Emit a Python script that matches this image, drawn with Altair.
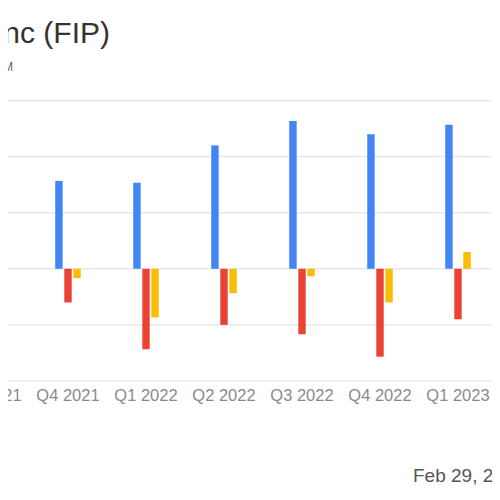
import altair as alt
import pandas as pd

quarters = ["Q3 2021", "Q4 2021", "Q1 2022", "Q2 2022", "Q3 2022", "Q4 2022", "Q1 2023"]
series = ["Revenue", "Net Income", "Free Cash Flow"]
colors = ["#4285F4", "#EA4335", "#FBBC04"]
revenue = [40, 47, 46, 66, 79, 72, 77]
net_income = [-30, -18, -43, -30, -35, -47, -27]
cash_flow = [-15, -5, -26, -13, -4, -18, 9]
grid_values = [-60, -30, 0, 30, 60, 90]
title_text = ["FTAI Infrastructure Inc (FIP)"]
subtitle_text = ["Quarterly Financials, in $M"]
date_text = ["Feb 29, 2024"]

# SVG is 484x484 so that with the 8px page margin the page is exactly 500x500
W = 484


def S(v):
    return v - 8


rows = []
for i, q in enumerate(quarters):
    for s, vals in zip(series, [revenue, net_income, cash_flow]):
        rows.append({"quarter": q, "series": s, "value": vals[i]})
df = pd.DataFrame(rows)
grid_df = pd.DataFrame({"v": grid_values})
lab_df = pd.DataFrame({"quarter": quarters})
one = pd.DataFrame({"a": [0]})

xscale = alt.Scale(domain=quarters, range=[S(-49), S(497)], paddingInner=0.673, paddingOuter=0.3365)
yscale = alt.Scale(domain=[-60, 90], range=[S(381), S(100.5)], nice=False)
FONT = "Liberation Sans"

grid = alt.Chart(grid_df).mark_rule(color="#e8e8e8", strokeWidth=1.5).encode(
    y=alt.Y("v:Q", scale=yscale, axis=None),
    x=alt.value(S(0)),
    x2=alt.value(S(494)),
)

bars = alt.Chart(df).mark_bar().encode(
    x=alt.X("quarter:N", scale=xscale, axis=None),
    xOffset=alt.XOffset("series:N", scale=alt.Scale(domain=series, paddingInner=0.18, paddingOuter=0)),
    y=alt.Y("value:Q", scale=yscale, axis=None),
    color=alt.Color("series:N", scale=alt.Scale(domain=series, range=colors), legend=None),
)

labels = alt.Chart(lab_df).mark_text(fontSize=16.5, color="#8a8a8a", baseline="middle", font=FONT).encode(
    x=alt.X("quarter:N", scale=xscale, axis=None),
    y=alt.value(S(396)),
    text="quarter:N",
)

title = alt.Chart(pd.DataFrame({"t": title_text})).mark_text(
    align="right", baseline="alphabetic", fontSize=30, color="#333333", font=FONT
).encode(x=alt.value(S(110)), y=alt.value(S(43)), text="t:N")

subtitle = alt.Chart(pd.DataFrame({"t": subtitle_text})).mark_text(
    align="right", baseline="alphabetic", fontSize=12, color="#5b5b8a", font=FONT
).encode(x=alt.value(S(13)), y=alt.value(S(71)), text="t:N")

date = alt.Chart(pd.DataFrame({"t": date_text})).mark_text(
    align="left", baseline="alphabetic", fontSize=19, color="#555555", font=FONT
).encode(x=alt.value(S(413)), y=alt.value(S(482)), text="t:N")

chart = alt.layer(grid, bars, labels, title, subtitle, date).properties(
    width=W, height=W, autosize=alt.AutoSizeParams(type="none"), padding=0, background="white"
).configure_view(stroke=None)

chart.save("out.html", embed_options={"renderer": "svg", "actions": False})
